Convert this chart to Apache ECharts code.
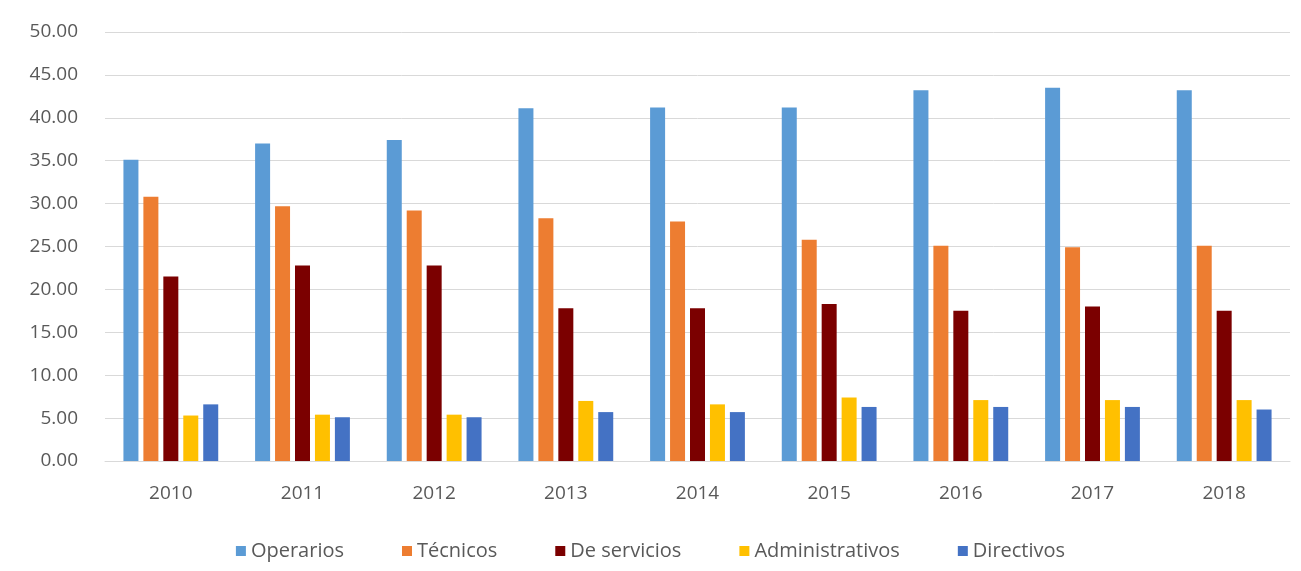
<!DOCTYPE html>
<html>
<head>
<meta charset="utf-8">
<script src="https://cdn.jsdelivr.net/npm/echarts@6/dist/echarts.min.js"></script>
<style>
  html, body { margin: 0; padding: 0; background: #fff; }
  #chart { width: 1301px; height: 571px; }
</style>
</head>
<body>
<div id="chart"></div>
<script>
// años
const years = ["2010", "2011", "2012", "2013", "2014", "2015", "2016", "2017", "2018"];
const yTicks = [0, 5, 10, 15, 20, 25, 30, 35, 40, 45, 50];

const operarios = [35.1, 37.0, 37.4, 41.1, 41.2, 41.2, 43.2, 43.5, 43.2];
const tecnicos = [30.8, 29.7, 29.2, 28.3, 27.9, 25.8, 25.1, 24.9, 25.1];
const servicios = [21.5, 22.8, 22.8, 17.8, 17.8, 18.3, 17.5, 18.0, 17.5];
const administrativos = [5.3, 5.4, 5.4, 7.0, 6.6, 7.4, 7.1, 7.1, 7.1];
const directivos = [6.6, 5.1, 5.1, 5.7, 5.7, 6.3, 6.3, 6.3, 6.0];

const names = ["Operarios", "Técnicos", "De servicios", "Administrativos", "Directivos"];
const colors = ["#5B9BD5", "#ED7D31", "#7B0000", "#FFC000", "#4472C4"];
const values = [operarios, tecnicos, servicios, administrativos, directivos];

const font = "'Open Sans', 'Noto Sans', sans-serif";

let chart = echarts.init(document.getElementById("chart"));
chart.setOption({
  animation: false,
  color: colors,
  grid: {
    left: 105,
    right: 11,
    top: 32,
    bottom: 110
  },
  legend: {
    bottom: 5,
    left: "center",
    itemWidth: 10,
    itemHeight: 10,
    itemGap: 58,
    icon: "rect",
    textStyle: { color: "#595959", fontSize: 20, fontFamily: font }
  },
  xAxis: {
    type: "category",
    data: years,
    axisTick: { show: false },
    axisLine: { lineStyle: { color: "#d9d9d9" } },
    axisLabel: { color: "#595959", fontSize: 19, fontFamily: font, margin: 23 }
  },
  yAxis: {
    type: "value",
    min: yTicks[0],
    max: yTicks[yTicks.length - 1],
    interval: 5,
    axisLabel: {
      color: "#595959",
      fontSize: 19,
      fontFamily: font,
      margin: 27,
      formatter: v => v.toFixed(2)
    },
    splitLine: { lineStyle: { color: "#d9d9d9", width: 1 } }
  },
  series: names.map((n, i) => ({
    name: n,
    type: "bar",
    data: values[i],
    barWidth: 15,
    barGap: "33%",
    barCategoryGap: "28%"
  }))
});
</script>
</body>
</html>
